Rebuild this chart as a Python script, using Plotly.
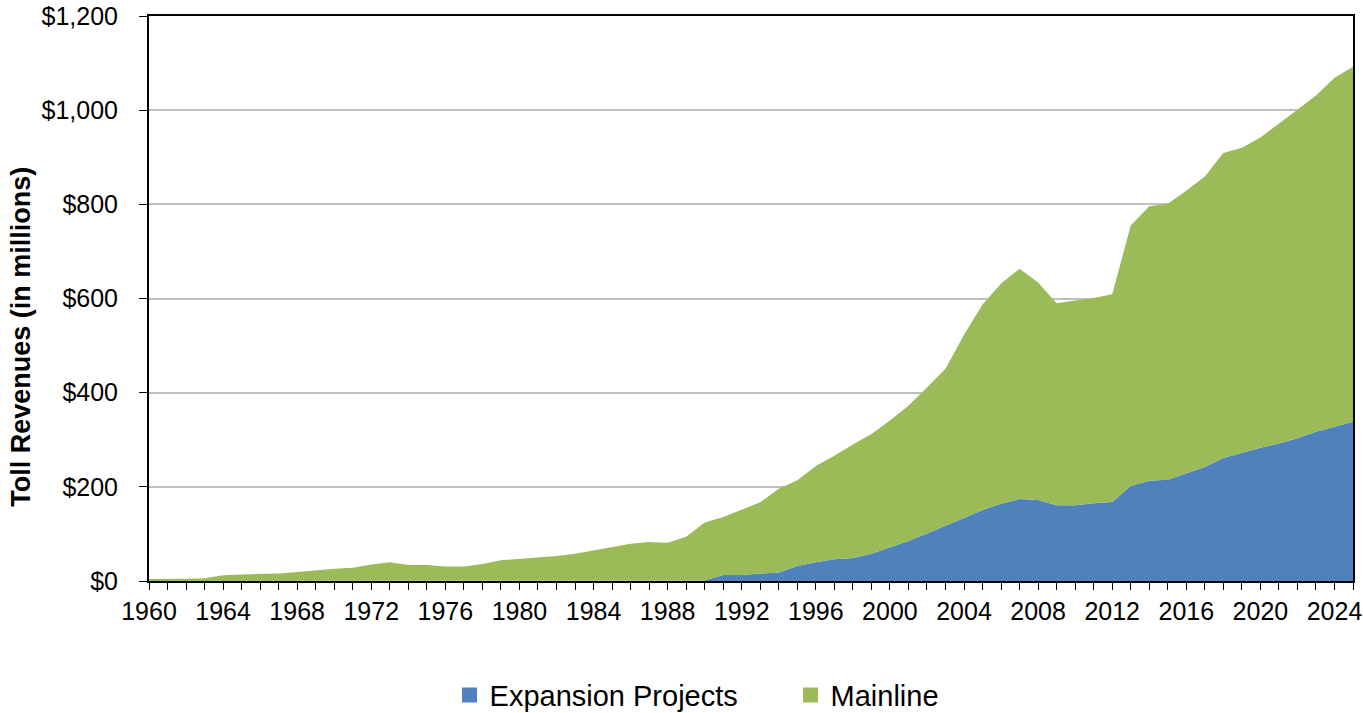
import plotly.graph_objects as go

# Fiscal years
years = list(range(1960, 2026))

# Toll revenues in $ millions
expansion_projects = [
    0, 0, 0, 0, 0, 0, 0, 0, 0, 0,            # 1960-1969
    0, 0, 0, 0, 0, 0, 0, 0, 0, 0,            # 1970-1979
    0, 0, 0, 0, 0, 0, 0, 0, 0, 0,            # 1980-1989
    1, 13, 13, 16, 18, 32, 40, 46, 49, 58,   # 1990-1999
    71, 85, 101, 117, 134, 151, 164, 174, 172, 161,   # 2000-2009
    161, 165, 168, 202, 213, 215, 228, 242, 261, 272, # 2010-2019
    283, 292, 303, 317, 327, 338,            # 2020-2025
]

mainline = [
    4, 4, 5, 6, 12, 14, 15, 16, 19, 23,              # 1960-1969
    26, 28, 35, 40, 34, 34, 31, 31, 36, 44,          # 1970-1979
    47, 51, 53, 58, 65, 73, 79, 83, 81, 94,          # 1980-1989
    123, 123, 139, 151, 178, 182, 204, 220, 241, 254, # 1990-1999
    270, 287, 310, 334, 389, 436, 468, 489, 462, 429, # 2000-2009
    435, 436, 441, 553, 583, 586, 601, 617, 648, 648, # 2010-2019
    659, 679, 698, 714, 742, 754,                    # 2020-2025
]

series_names = ["Expansion Projects", "Mainline"]

BLUE = "#4F81BD"
GREEN = "#9BBB59"
FONT = "Liberation Sans, Arial, sans-serif"

fig = go.Figure()

# Stacked areas
for name, vals, col in zip(series_names, [expansion_projects, mainline], [BLUE, GREEN]):
    fig.add_trace(go.Scatter(
        x=years, y=vals, name=name,
        mode="lines", line=dict(width=0, color=col),
        fillcolor=col, stackgroup="rev", showlegend=False,
    ))

# Square legend keys
for name, col in zip(series_names, [BLUE, GREEN]):
    fig.add_trace(go.Scatter(
        x=[None], y=[None], name=name, mode="markers",
        marker=dict(symbol="square", size=15, color=col),
        showlegend=True,
    ))

fig.update_layout(
    width=1363, height=713,
    margin=dict(l=149, r=10, t=16, b=132, autoexpand=False),
    paper_bgcolor="white", plot_bgcolor="white",
    font=dict(family=FONT, color="black", size=25),
    showlegend=True,
    legend=dict(
        orientation="h", xref="container", yref="container",
        x=0.58, xanchor="center", y=0.025, yanchor="middle",
        font=dict(size=29, family=FONT),
        traceorder="normal", entrywidth=296, entrywidthmode="pixels",
    ),
    annotations=[dict(
        text="<b>Toll Revenues (in millions)</b>", textangle=-90,
        xref="paper", yref="paper", x=-0.106, y=0.433,
        xanchor="center", yanchor="middle", showarrow=False,
        font=dict(size=27, family=FONT, color="black"),
    )],
)

fig.update_xaxes(
    range=[1960, 2025], tick0=1960, dtick=4, automargin=False,
    ticks="outside", ticklen=7, tickcolor="black", tickwidth=1,
    tickfont=dict(size=25, family=FONT),
    minor=dict(dtick=1, tick0=1960, ticks="outside", ticklen=7,
               tickcolor="black", tickwidth=1, showgrid=False),
    showline=True, linecolor="black", linewidth=2, mirror=True,
    showgrid=False, zeroline=False,
)

fig.update_yaxes(
    range=[0, 1200], dtick=200, tickprefix="$", tickformat=",d",
    automargin=False,
    ticks="outside", ticklen=8, tickcolor="black", tickwidth=1,
    ticklabelstandoff=16,
    tickfont=dict(size=25, family=FONT),
    showline=True, linecolor="black", linewidth=2, mirror=True,
    showgrid=True, gridcolor="#BFBFBF", gridwidth=1.5, zeroline=False,
)

fig.write_html("out.html")
